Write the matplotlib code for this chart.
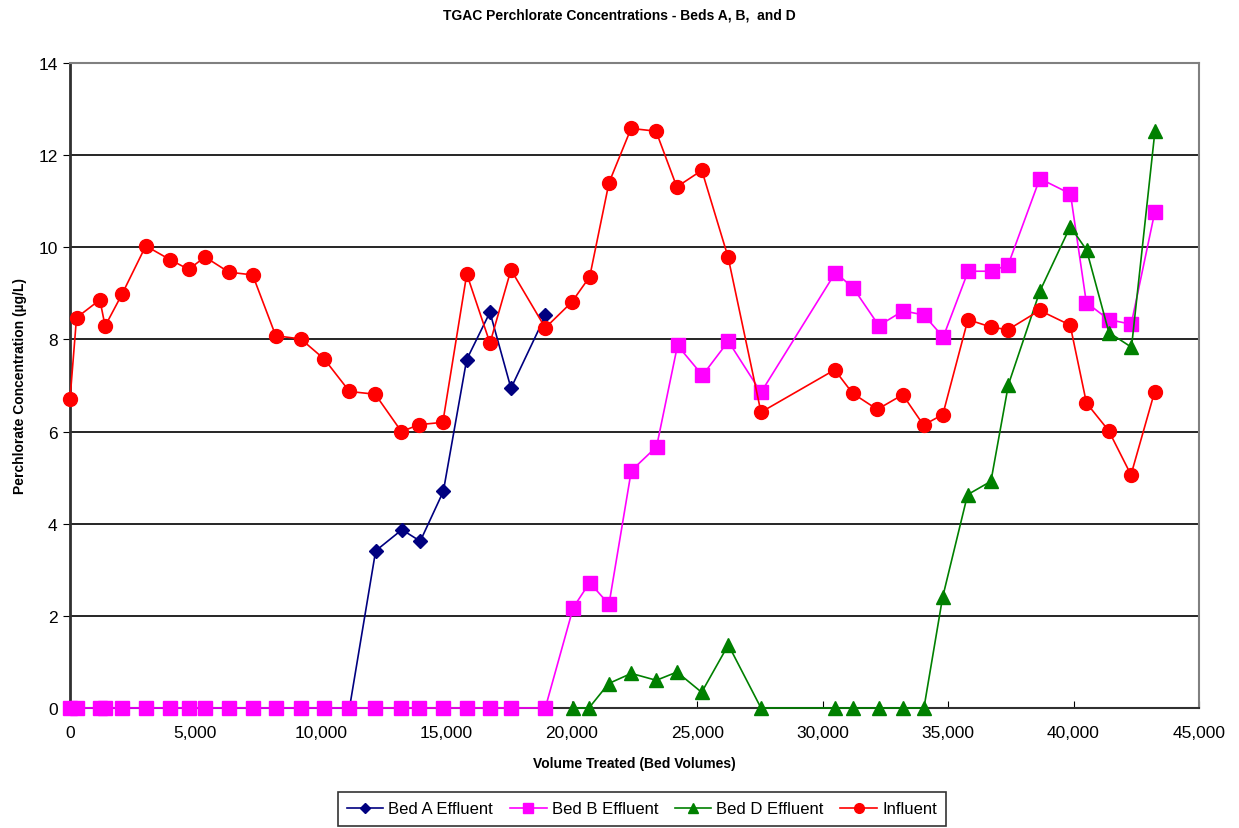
import matplotlib
matplotlib.use('Agg')
import matplotlib.pyplot as plt
from matplotlib.ticker import FuncFormatter, MultipleLocator

plt.rcParams['font.family'] = ['Liberation Sans', 'DejaVu Sans']

# Influent
inf_x = [0, 260, 1190, 1400, 2072, 3020, 3990, 4730, 5380, 6330,
         7280, 8200, 9200, 10140, 11140, 12165, 13210, 13920, 14860, 15815,
         16740, 17577, 18945, 20000, 20715, 21483, 22365, 23357, 24187, 25183,
         26233, 27542, 30480, 31194, 32177, 33190, 34020, 34790, 35790, 36700,
         37385, 38648, 39865, 40515, 41400, 42290, 43230]
inf_y = [6.70, 8.47, 8.86, 8.29, 8.98, 10.03, 9.73, 9.52, 9.79, 9.46,
         9.40, 8.08, 8.01, 7.57, 6.87, 6.81, 6.00, 6.15, 6.20, 9.42,
         7.92, 9.51, 8.25, 8.81, 9.36, 11.40, 12.58, 12.52, 11.31, 11.67,
         9.78, 6.42, 7.34, 6.83, 6.48, 6.80, 6.14, 6.37, 8.43, 8.27,
         8.21, 8.63, 8.31, 6.62, 6.02, 5.06, 6.86]

# Bed A effluent
a_x = inf_x[:15] + [12183, 13230, 13960, 14880, 15810, 16740, 17577, 18950]
a_y = [0] * 15 + [3.41, 3.87, 3.62, 4.70, 7.56, 8.59, 6.94, 8.52]

# Bed B effluent
b_x = inf_x[:23] + [20060, 20713, 21483, 22373, 23380, 24215, 25210, 26240,
                    27542, 30510, 31215, 32240, 33210, 34035, 34805, 35800,
                    36740, 37395, 38655, 39878, 40510, 41400, 42298, 43240]
b_y = [0] * 23 + [2.18, 2.72, 2.25, 5.15, 5.67, 7.87, 7.22, 7.96,
                  6.85, 9.45, 9.12, 8.30, 8.62, 8.53, 8.05, 9.48,
                  9.48, 9.62, 11.49, 11.16, 8.80, 8.43, 8.33, 10.77]

# Bed D effluent
d_x = [20030, 20685, 21469, 22373, 23370, 24193, 25177, 26240, 27542, 30490,
       31194, 32230, 33210, 34037, 34781, 35777, 36707, 37405, 38661, 39870,
       40520, 41410, 42310, 43244]
d_y = [0, 0, 0.53, 0.75, 0.60, 0.78, 0.34, 1.37, 0, 0,
       0, 0, 0, 0, 2.40, 4.63, 4.92, 7.02, 9.05, 10.45,
       9.94, 8.15, 7.83, 12.52]

fig = plt.figure(figsize=(12.39, 8.29), dpi=100)
ax = fig.add_axes([0.0565, 0.1448, 0.9112, 0.778])

ax.plot(a_x, a_y, color='#000080', marker='D', markersize=7.5, lw=1.2,
        label='Bed A Effluent', clip_on=False, zorder=3)
ax.plot(b_x, b_y, color='#FF00FF', marker='s', markersize=10, lw=1.2,
        label='Bed B Effluent', clip_on=False, zorder=3)
ax.plot(d_x, d_y, color='#008000', marker='^', markersize=10, lw=1.2,
        label='Bed D Effluent', clip_on=False, zorder=3)
ax.plot(inf_x, inf_y, color='#FF0000', marker='o', markersize=10, lw=1.2,
        label='Influent', clip_on=False, zorder=3)

ax.set_xlim(0, 45000)
ax.set_ylim(0, 14)
ax.xaxis.set_major_locator(MultipleLocator(5000))
ax.yaxis.set_major_locator(MultipleLocator(2))
ax.xaxis.set_major_formatter(FuncFormatter(lambda v, p: '{:,.0f}'.format(v)))
ax.yaxis.grid(True, color='black', lw=1.2)
ax.set_axisbelow(True)

for s in ['top', 'right']:
    ax.spines[s].set_color('#808080')
    ax.spines[s].set_linewidth(1.5)
ax.spines['left'].set_color('#303030')
ax.spines['left'].set_linewidth(2)
ax.spines['bottom'].set_color('#303030')
ax.spines['bottom'].set_linewidth(1.5)

ax.tick_params(axis='x', direction='in', length=5, labelsize=12.5, pad=12)
ax.tick_params(axis='y', direction='out', length=5, labelsize=12.5, pad=4)

ax.set_xlabel('Volume Treated (Bed Volumes)', fontsize=10, fontweight='bold',
              labelpad=12)
ax.set_ylabel('Perchlorate Concentration (µg/L)', fontsize=10,
              fontweight='bold', labelpad=8)
fig.text(0.5, 0.99, 'TGAC Perchlorate Concentrations - Beds A, B,  and D',
         ha='center', va='top', fontsize=10, fontweight='bold')

leg = fig.legend(loc='lower center', bbox_to_anchor=(0.518, 0.0), ncol=4,
                 fontsize=12, frameon=True, fancybox=False, edgecolor='black',
                 handlelength=2.2, handletextpad=0.3, columnspacing=1.0,
                 borderpad=0.55, borderaxespad=0.15, markerscale=0.7)
leg.get_frame().set_linewidth(1.2)

fig.savefig('out.png', dpi=100)
